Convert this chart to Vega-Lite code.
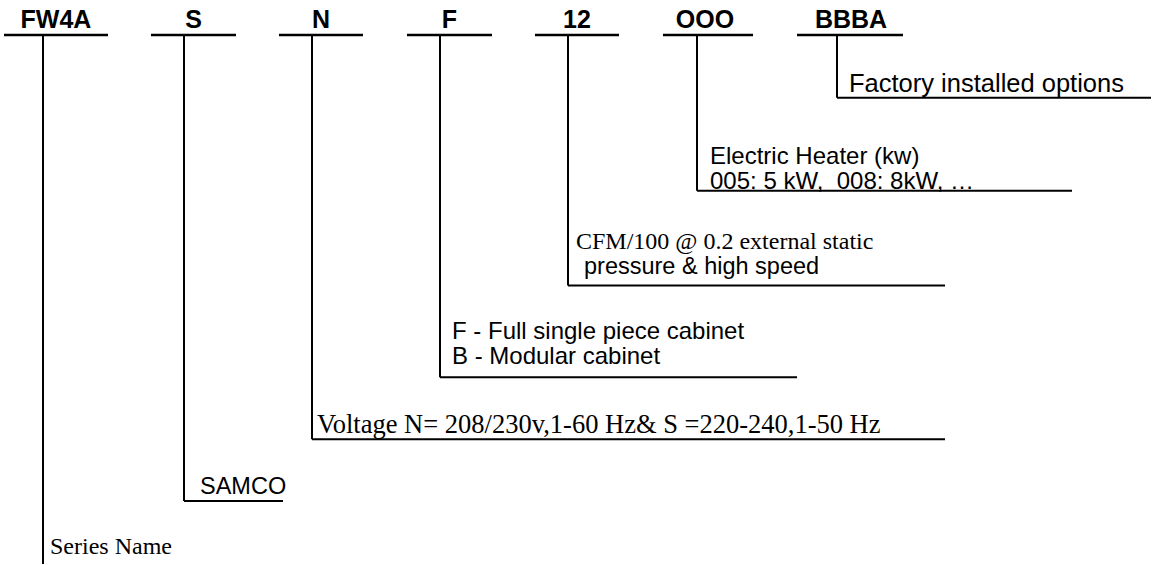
{
  "$schema": "https://vega.github.io/schema/vega-lite/v6.json",
  "width": 1154,
  "height": 565,
  "autosize": {"type": "fit", "contains": "padding"},
  "padding": 0,
  "background": "white",
  "config": {"view": {"stroke": null}},
  "datasets": {
    "underlines": [
      {"code": "FW4A", "x1": 4, "x2": 108, "y": 35},
      {"code": "S", "x1": 151, "x2": 236, "y": 35},
      {"code": "N", "x1": 279, "x2": 363, "y": 35},
      {"code": "F", "x1": 407, "x2": 492, "y": 35},
      {"code": "12", "x1": 535, "x2": 619, "y": 35},
      {"code": "OOO", "x1": 663, "x2": 753, "y": 35},
      {"code": "BBBA", "x1": 797, "x2": 903, "y": 35}
    ],
    "leaders": [
      {"code": "FW4A", "x1": 43, "y1": 35, "x2": 43, "y2": 565},
      {"code": "S", "x1": 184, "y1": 35, "x2": 184, "y2": 502},
      {"code": "S", "x1": 184, "y1": 502, "x2": 283, "y2": 502},
      {"code": "N", "x1": 312, "y1": 35, "x2": 312, "y2": 440},
      {"code": "N", "x1": 312, "y1": 440, "x2": 945, "y2": 440},
      {"code": "F", "x1": 440, "y1": 35, "x2": 440, "y2": 378},
      {"code": "F", "x1": 440, "y1": 378, "x2": 797, "y2": 378},
      {"code": "12", "x1": 568, "y1": 35, "x2": 568, "y2": 286},
      {"code": "12", "x1": 568, "y1": 286, "x2": 945, "y2": 286},
      {"code": "OOO", "x1": 697, "y1": 35, "x2": 697, "y2": 191},
      {"code": "OOO", "x1": 697, "y1": 191, "x2": 1072, "y2": 191},
      {"code": "BBBA", "x1": 837, "y1": 35, "x2": 837, "y2": 98},
      {"code": "BBBA", "x1": 837, "y1": 98, "x2": 1151, "y2": 98}
    ],
    "codes": [
      {"code": "FW4A", "x": 56, "y": 28},
      {"code": "S", "x": 193.5, "y": 28},
      {"code": "N", "x": 321, "y": 28},
      {"code": "F", "x": 449.5, "y": 28},
      {"code": "12", "x": 577, "y": 28},
      {"code": "OOO", "x": 705, "y": 28},
      {"code": "BBBA", "x": 851, "y": 28}
    ],
    "notes": [
      {"text": "Factory installed options", "x": 849, "y": 92, "style": "sans25"},
      {"text": "Electric Heater (kw)", "x": 710, "y": 164, "style": "sans24"},
      {"text": "005: 5 kW,\u00a0 008: 8kW, …", "x": 710, "y": 189, "style": "sans24"},
      {"text": "pressure & high speed", "x": 584, "y": 274, "style": "sans23"},
      {"text": "F - Full single piece cabinet", "x": 452, "y": 340, "style": "sans24"},
      {"text": "B - Modular cabinet", "x": 452, "y": 365, "style": "sans24"},
      {"text": "SAMCO", "x": 200, "y": 495, "style": "sans23"},
      {"text": "CFM/100 @ 0.2 external static", "x": 576, "y": 249, "style": "serif24"},
      {"text": "Voltage N= 208/230v,1-60 Hz& S =220-240,1-50 Hz", "x": 317, "y": 434, "style": "serif26"},
      {"text": "Series Name", "x": 50, "y": 555, "style": "serif24"}
    ]
  },
  "layer": [
    {
      "data": {"name": "underlines"},
      "mark": {"type": "rule", "color": "black", "strokeWidth": 2.5},
      "encoding": {
        "x": {"field": "x1", "type": "quantitative", "scale": {"domain": [0, 1154], "nice": false, "zero": false}, "axis": null},
        "x2": {"field": "x2"},
        "y": {"field": "y", "type": "quantitative", "scale": {"domain": [0, 565], "nice": false, "zero": false, "reverse": true}, "axis": null}
      }
    },
    {
      "data": {"name": "leaders"},
      "mark": {"type": "rule", "color": "black", "strokeWidth": 2},
      "encoding": {
        "x": {"field": "x1", "type": "quantitative", "axis": null},
        "x2": {"field": "x2"},
        "y": {"field": "y1", "type": "quantitative", "axis": null},
        "y2": {"field": "y2"}
      }
    },
    {
      "data": {"name": "codes"},
      "mark": {"type": "text", "font": "Liberation Sans", "fontWeight": "bold", "fontSize": 25, "align": "center", "baseline": "alphabetic", "color": "black"},
      "encoding": {
        "x": {"field": "x", "type": "quantitative", "axis": null},
        "y": {"field": "y", "type": "quantitative", "axis": null},
        "text": {"field": "code"}
      }
    },
    {
      "data": {"name": "notes"},
      "transform": [{"filter": "datum.style == 'sans25'"}],
      "mark": {"type": "text", "font": "Liberation Sans", "fontSize": 25.5, "align": "left", "baseline": "alphabetic", "color": "black"},
      "encoding": {
        "x": {"field": "x", "type": "quantitative", "axis": null},
        "y": {"field": "y", "type": "quantitative", "axis": null},
        "text": {"field": "text"}
      }
    },
    {
      "data": {"name": "notes"},
      "transform": [{"filter": "datum.style == 'sans24'"}],
      "mark": {"type": "text", "font": "Liberation Sans", "fontSize": 24, "align": "left", "baseline": "alphabetic", "color": "black"},
      "encoding": {
        "x": {"field": "x", "type": "quantitative", "axis": null},
        "y": {"field": "y", "type": "quantitative", "axis": null},
        "text": {"field": "text"}
      }
    },
    {
      "data": {"name": "notes"},
      "transform": [{"filter": "datum.style == 'sans23'"}],
      "mark": {"type": "text", "font": "Liberation Sans", "fontSize": 23.5, "align": "left", "baseline": "alphabetic", "color": "black"},
      "encoding": {
        "x": {"field": "x", "type": "quantitative", "axis": null},
        "y": {"field": "y", "type": "quantitative", "axis": null},
        "text": {"field": "text"}
      }
    },
    {
      "data": {"name": "notes"},
      "transform": [{"filter": "datum.style == 'serif24'"}],
      "mark": {"type": "text", "font": "Liberation Serif", "fontSize": 24, "align": "left", "baseline": "alphabetic", "color": "black"},
      "encoding": {
        "x": {"field": "x", "type": "quantitative", "axis": null},
        "y": {"field": "y", "type": "quantitative", "axis": null},
        "text": {"field": "text"}
      }
    },
    {
      "data": {"name": "notes"},
      "transform": [{"filter": "datum.style == 'serif26'"}],
      "mark": {"type": "text", "font": "Liberation Serif", "fontSize": 26.5, "align": "left", "baseline": "alphabetic", "color": "black"},
      "encoding": {
        "x": {"field": "x", "type": "quantitative", "axis": null},
        "y": {"field": "y", "type": "quantitative", "axis": null},
        "text": {"field": "text"}
      }
    }
  ]
}
